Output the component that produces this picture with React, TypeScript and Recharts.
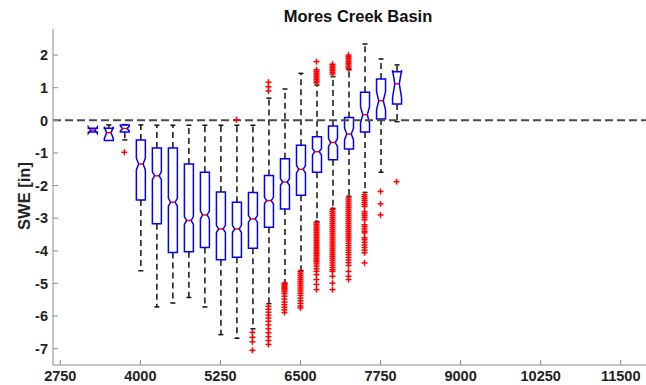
import React from "react";
import { ComposedChart, Bar, Scatter, XAxis, YAxis, ReferenceLine } from "recharts";

// elevation bins (ft) and per-bin box statistics of SWE difference (in)
const categories = [3250, 3500, 3750, 4000, 4250, 4500, 4750, 5000, 5250, 5500, 5750, 6000, 6250, 6500, 6750, 7000, 7250, 7500, 7750, 8000];
const whiskerHigh = [-0.24, -0.14, -0.13, -0.14, -0.15, -0.15, -0.15, -0.15, -0.15, -0.15, -0.15, 0.68, 0.96, 1.44, 1.08, 1.34, 1.55, 2.34, 1.88, 1.7];
const q3 = [-0.24, -0.24, -0.14, -0.6, -0.85, -0.85, -1.34, -1.59, -2.2, -2.51, -2.21, -1.69, -1.18, -0.76, -0.5, -0.17, 0.09, 0.86, 1.27, 1.49];
const median = [-0.3, -0.38, -0.25, -1.34, -1.7, -2.51, -3.07, -2.9, -3.33, -3.33, -3.02, -2.46, -1.89, -1.5, -0.96, -0.68, -0.42, 0.17, 0.6, 1.12];
const q1 = [-0.36, -0.62, -0.36, -2.44, -3.17, -4.05, -4.03, -3.9, -4.27, -4.2, -3.92, -3.28, -2.72, -2.3, -1.59, -1.21, -0.88, -0.36, 0.04, 0.5];
const whiskerLow = [-0.36, -0.62, -0.6, -4.61, -5.72, -5.6, -5.43, -5.72, -6.57, -6.68, -6.39, -5.62, -4.99, -4.61, -3.1, -2.7, -2.33, -2.21, -1.59, -0.04];
const notch = [0.1, 0.18, 0.08, 0.18, 0.12, 0.12, 0.12, 0.12, 0.11, 0.11, 0.1, 0.1, 0.1, 0.12, 0.1, 0.12, 0.18, 0.25, 0.28, 0.42];
const outliers: number[][] = [
  [], [], [-0.98], [], [], [], [], [], [], [0.02],
  [-6.5, -6.65, -6.79, -7.05],
  [1.17, 1.03, 0.9, -5.7, -5.79, -5.88, -5.97, -6.06, -6.16, -6.27, -6.39, -6.51, -6.63, -6.75, -6.87],
  [-5.0, -5.04, -5.08, -5.12, -5.16, -5.2, -5.25, -5.31, -5.39, -5.48, -5.57, -5.65, -5.73, -5.81, -5.89],
  [-4.63, -4.69, -4.75, -4.81, -4.87, -4.93, -4.99, -5.05, -5.11, -5.17, -5.23, -5.3, -5.37, -5.45, -5.53, -5.61, -5.69, -5.75],
  [1.8, 1.55, 1.5, 1.45, 1.4, 1.35, 1.3, 1.25, 1.2, 1.15,
    -3.14, -3.19, -3.24, -3.29, -3.34, -3.39, -3.44, -3.49, -3.54, -3.59, -3.64, -3.69, -3.74, -3.79, -3.84, -3.89, -3.94,
    -3.99, -4.04, -4.09, -4.14, -4.19, -4.24, -4.29, -4.34, -4.4, -4.47, -4.55, -4.63, -4.73, -4.88, -5.03, -5.19],
  [1.72, 1.67, 1.62, 1.57, 1.52, 1.47, 1.42,
    -2.74, -2.8, -2.86, -2.92, -2.98, -3.04, -3.1, -3.16, -3.22, -3.28, -3.34, -3.4, -3.46, -3.52, -3.58, -3.64, -3.7,
    -3.76, -3.82, -3.88, -3.94, -4.0, -4.06, -4.12, -4.18, -4.24, -4.3, -4.37, -4.44, -4.51, -4.58, -4.63, -4.78, -4.99, -5.19],
  [2.0, 1.95, 1.9, 1.85, 1.8, 1.75, 1.7, 1.64, 1.59,
    -2.38, -2.44, -2.5, -2.56, -2.62, -2.68, -2.74, -2.8, -2.86, -2.92, -2.98, -3.04, -3.1, -3.16, -3.22, -3.28, -3.34,
    -3.4, -3.46, -3.52, -3.58, -3.64, -3.7, -3.77, -3.84, -3.91, -3.98, -4.05, -4.12, -4.2, -4.28, -4.36, -4.45, -4.63, -4.78, -4.88],
  [-2.28, -2.34, -2.4, -2.46, -2.52, -2.58, -2.64, -2.8, -2.86, -2.92, -2.98, -3.05, -3.2, -3.26, -3.33, -3.4, -3.45,
    -3.6, -3.66, -3.74, -3.82, -3.9, -3.98, -4.06, -4.37],
  [-2.18, -2.56, -2.9],
  [-1.88],
];

const xTicks = [2750, 4000, 5250, 6500, 7750, 9000, 10250, 11500];
const yTicks = [-7, -6, -5, -4, -3, -2, -1, 0, 1, 2];

const boxData = categories.map((c, i) => ({
  x: c,
  lo: whiskerLow[i],
  hi: whiskerHigh[i],
  q1: q1[i],
  q3: q3[i],
  med: median[i],
  notch: notch[i],
  range: [whiskerLow[i], whiskerHigh[i]],
}));

const outlierData = categories.flatMap((c, i) => outliers[i].map((v) => ({ x: c, y: v })));

const FONT = "'Liberation Sans', Arial, Helvetica, sans-serif";
const AXIS = "#8c8c8c";

// notched box + dashed whiskers, positioned from the whisker range bar the library lays out
function BoxShape(props: any) {
  const { x, y, width, height, payload: p } = props;
  if (p == null || !isFinite(height)) return null;
  const k = height / (p.hi - p.lo);
  const py = (v: number) => y + (p.hi - v) * k;
  const cx = x + width / 2;
  const L = x, R = x + width;
  const iL = cx - width / 4, iR = cx + width / 4;
  const yq1 = py(p.q1), yq3 = py(p.q3), ym = py(p.med);
  const ynl = py(p.med - p.notch), ynh = py(p.med + p.notch);
  const pts = [
    [L, yq1], [L, ynl], [iL, ym], [L, ynh], [L, yq3],
    [R, yq3], [R, ynh], [iR, ym], [R, ynl], [R, yq1],
  ].map((q) => q.join(",")).join(" ");
  const cap = 2.5;
  return (
    <g>
      {p.hi > p.q3 && (
        <>
          <line x1={cx} x2={cx} y1={yq3} y2={y} stroke="#111" strokeWidth={1.5} strokeDasharray="6 4" />
          <line x1={cx - cap} x2={cx + cap} y1={y} y2={y} stroke="#111" strokeWidth={1.5} />
        </>
      )}
      {p.lo < p.q1 && (
        <>
          <line x1={cx} x2={cx} y1={yq1} y2={y + height} stroke="#111" strokeWidth={1.5} strokeDasharray="6 4" />
          <line x1={cx - cap} x2={cx + cap} y1={y + height} y2={y + height} stroke="#111" strokeWidth={1.5} />
        </>
      )}
      <polygon points={pts} fill="none" stroke="#0000ff" strokeWidth={1.5} />
      <line x1={iL} x2={iR} y1={ym} y2={ym} stroke="#ff0000" strokeWidth={1.5} />
    </g>
  );
}

function Plus(props: any) {
  const { cx, cy } = props;
  if (cx == null || cy == null) return null;
  return (
    <g stroke="#ff0000" strokeWidth={1.5}>
      <line x1={cx - 3} x2={cx + 3} y1={cy} y2={cy} />
      <line x1={cx} x2={cx} y1={cy - 3} y2={cy + 3} />
    </g>
  );
}

function YTick({ x, y, payload }: any) {
  return (
    <g>
      <line x1={x} x2={x + 5} y1={y} y2={y} stroke={AXIS} />
      <text x={x - 5} y={y} dy={5.2} textAnchor="end" fontFamily={FONT} fontWeight="bold" fontSize={14.5} fill="#222">
        {payload.value}
      </text>
    </g>
  );
}

function XTick({ x, y, payload }: any) {
  return (
    <g>
      <line x1={x} x2={x} y1={y} y2={y - 5} stroke={AXIS} />
      <text x={x} y={y} dy={15.5} textAnchor="middle" fontFamily={FONT} fontWeight="bold" fontSize={14.5} fill="#222">
        {payload.value}
      </text>
    </g>
  );
}

function TopTick({ x, y }: any) {
  return <line x1={x} x2={x} y1={y} y2={y + 5} stroke={AXIS} />;
}

export default function App() {
  return (
    <div style={{ position: "relative", width: 646, height: 385, overflow: "hidden", background: "#fff" }}>
      <style>{`body{margin:0}`}</style>
      <ComposedChart width={663} height={385} data={boxData} margin={{ top: 29, right: 0, bottom: 0, left: 0 }}>
        <XAxis
          dataKey="x"
          type="number"
          domain={[2636, 12160]}
          ticks={xTicks}
          allowDataOverflow
          height={20}
          stroke={AXIS}
          tickSize={0}
          tickMargin={0}
          tick={<XTick />}
          interval={0}
        />
        <XAxis
          xAxisId="top"
          orientation="top"
          type="number"
          domain={[2636, 12160]}
          ticks={xTicks}
          allowDataOverflow
          height={0}
          stroke={AXIS}
          tickSize={0}
          tickMargin={0}
          tick={<TopTick />}
          interval={0}
        />
        <YAxis
          type="number"
          domain={[-7.5, 2.8]}
          ticks={yTicks}
          allowDataOverflow
          width={53}
          stroke={AXIS}
          tickSize={0}
          tickMargin={0}
          tick={<YTick />}
          interval={0}
        />
        <ReferenceLine y={0} stroke="#4a4a4a" strokeWidth={2} strokeDasharray="8 4" />
        <Bar dataKey="range" barSize={9} shape={<BoxShape />} isAnimationActive={false} />
        <Scatter data={outlierData} dataKey="y" shape={<Plus />} isAnimationActive={false} />
      </ComposedChart>
      <svg width={646} height={385} style={{ position: "absolute", left: 0, top: 0, pointerEvents: "none" }}>
        <text x={358} y={21.5} textAnchor="middle" fontFamily={FONT} fontWeight="bold" fontSize={16.5} fill="#111">
          Mores Creek Basin
        </text>
        <text
          transform="translate(30,196) rotate(-90)"
          textAnchor="middle"
          fontFamily={FONT}
          fontWeight="bold"
          fontSize={16.5}
          fill="#222"
        >
          SWE [in]
        </text>
      </svg>
    </div>
  );
}
